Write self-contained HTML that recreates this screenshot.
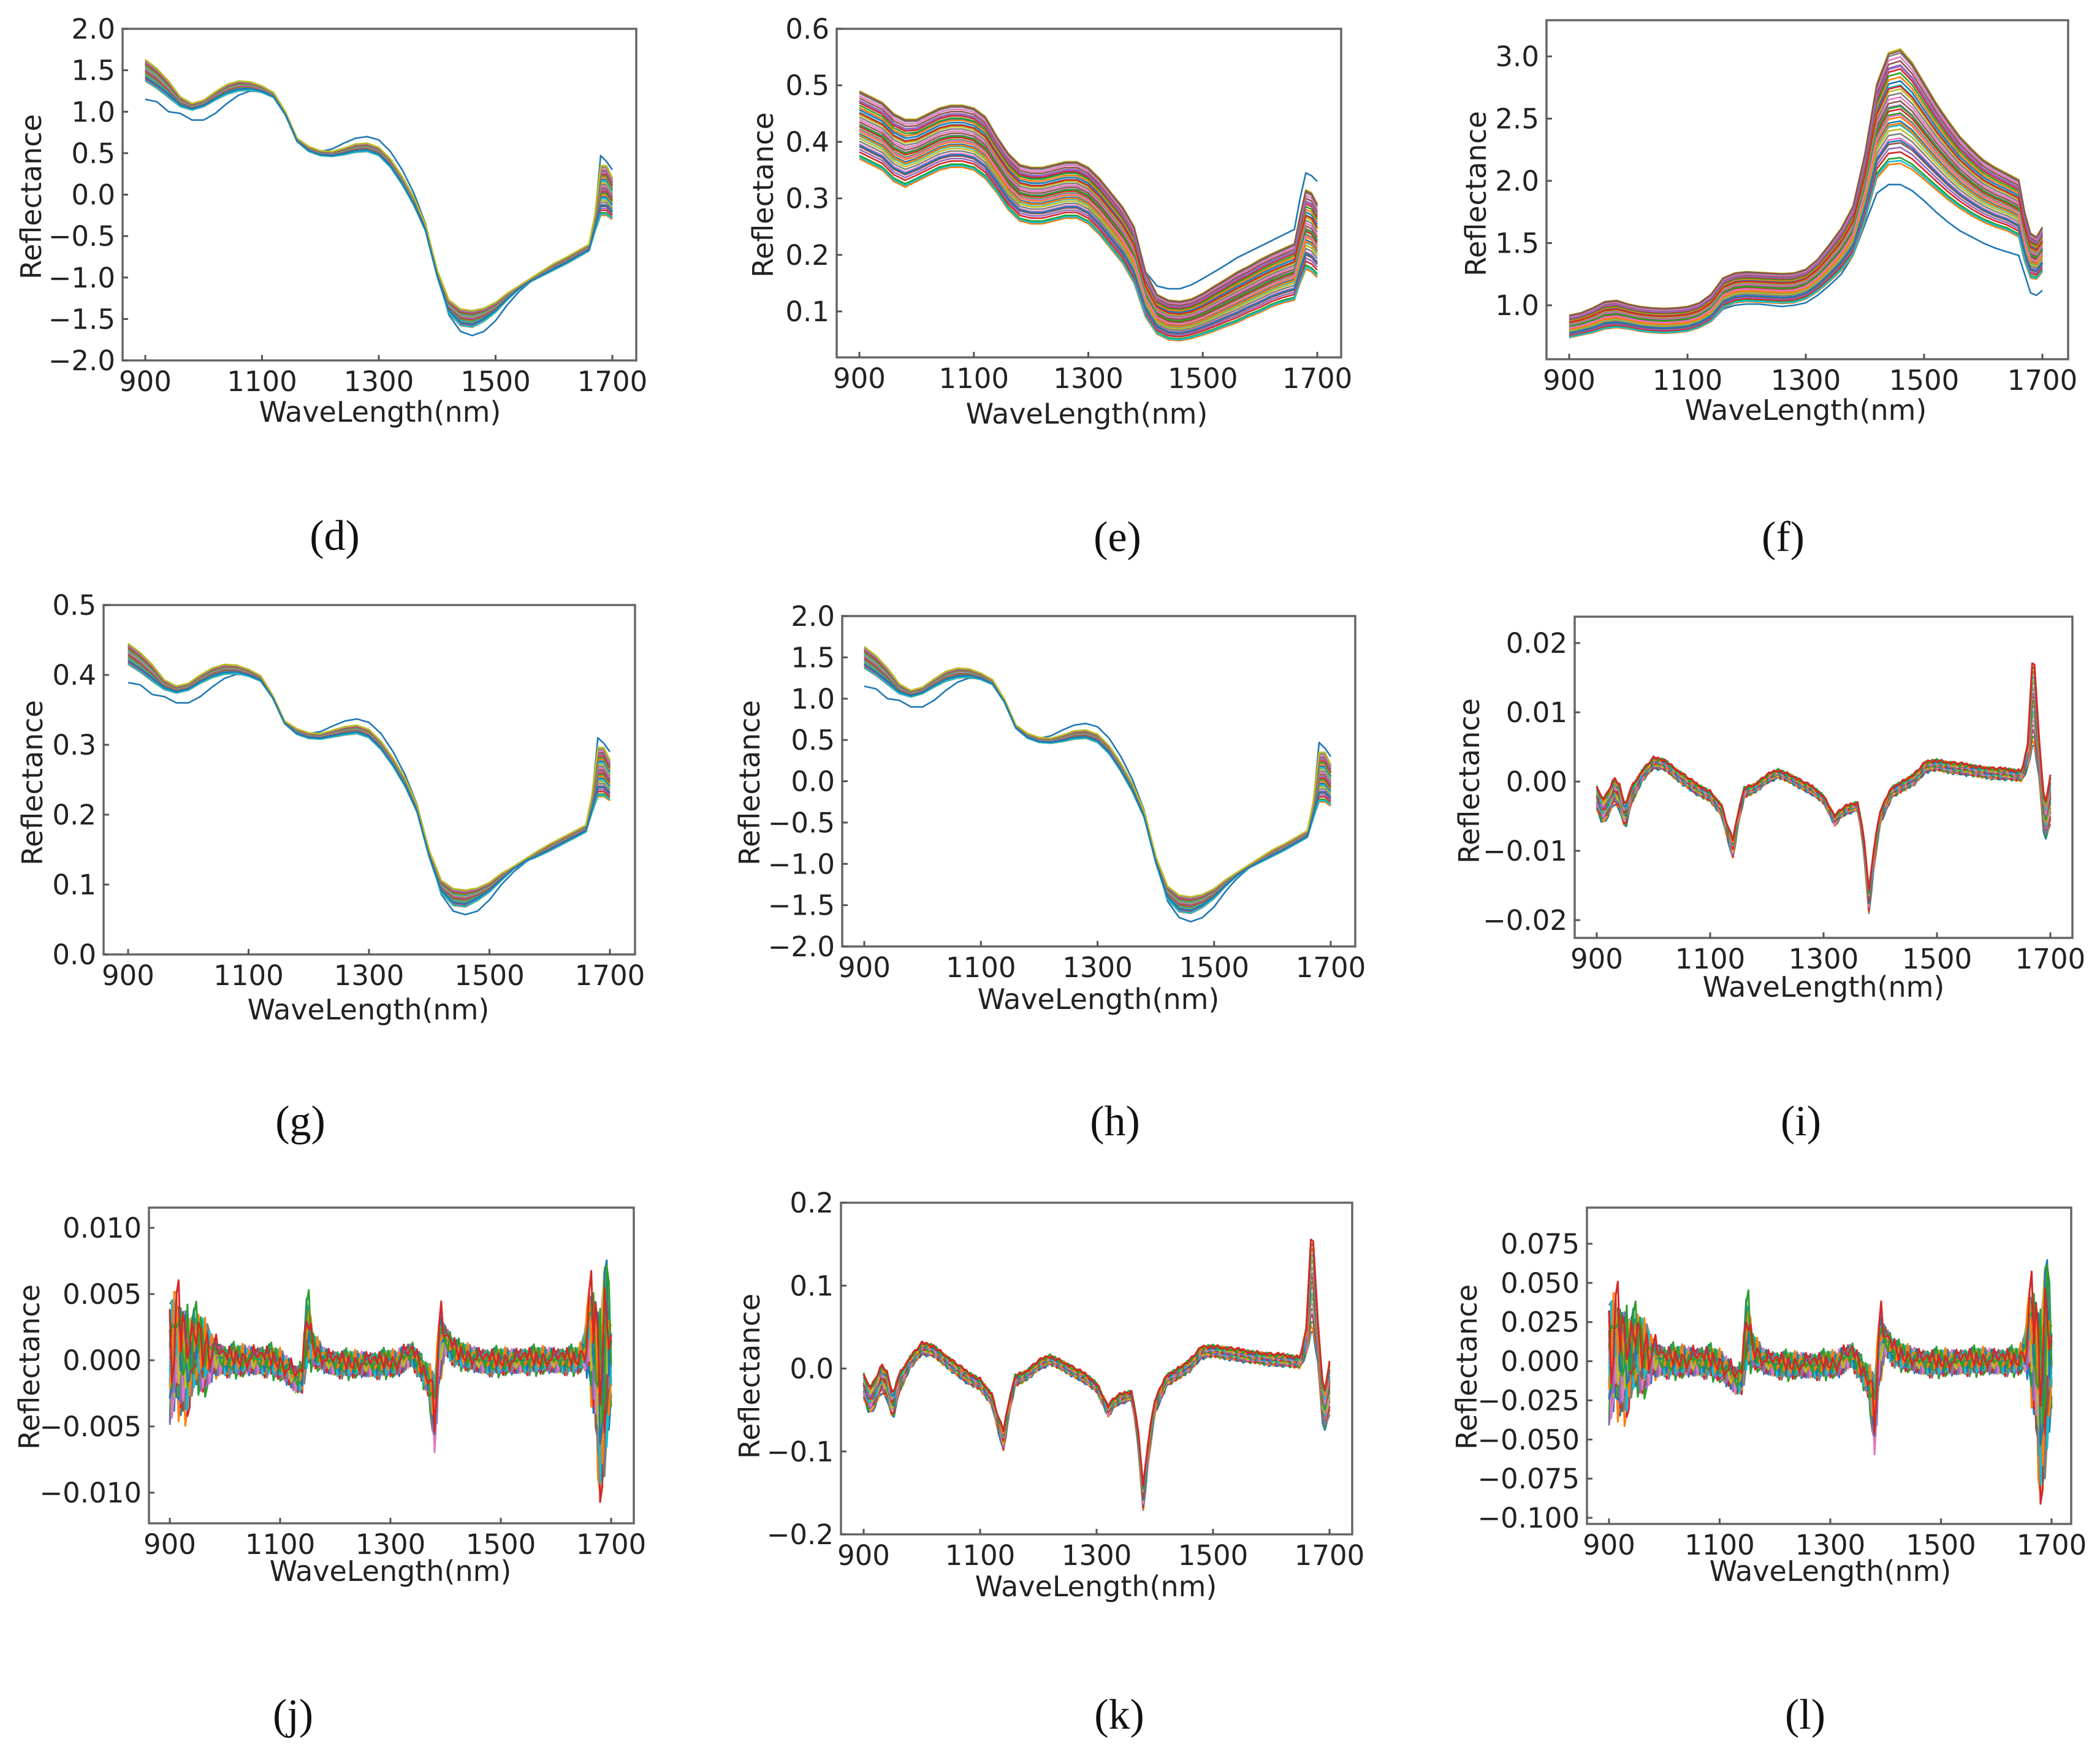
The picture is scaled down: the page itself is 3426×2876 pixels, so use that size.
<!DOCTYPE html>
<html><head><meta charset="utf-8"><style>
html,body{margin:0;padding:0;background:#fff;}
svg{display:block;}
.tk{font-family:"DejaVu Sans","Liberation Sans",sans-serif;font-size:45px;fill:#222;}
.lb{font-family:"DejaVu Sans","Liberation Sans",sans-serif;font-size:46px;fill:#222;}
.pl{font-family:"Liberation Serif",serif;font-size:70px;fill:#111;}
</style></head><body>
<svg id="fig" xmlns="http://www.w3.org/2000/svg" width="3426" height="2876" viewBox="0 0 3426 2876">
<rect x="0" y="0" width="3426" height="2876" fill="#fff"/>
</svg>
<script>
// ---- shared data ----
const W1 = [900,920,940,960,980,1000,1020,1040,1060,1080,1100,1120,1140,1160,1180,1200,1220,1240,1260,1280,1300,1320,1340,1360,1380,1400,1420,1440,1460,1480,1500,1520,1540,1560,1580,1600,1620,1640,1660,1670,1680,1690,1700];
const Wi = [900,910,920,930,940,950,960,980,1000,1020,1040,1060,1080,1100,1120,1130,1140,1150,1160,1180,1200,1220,1240,1260,1280,1300,1310,1320,1330,1340,1360,1370,1380,1390,1400,1420,1440,1460,1480,1500,1520,1540,1560,1580,1600,1620,1640,1650,1660,1670,1680,1690,1700];
const sampleOffsets = [-1,-0.9,-0.8,-0.72,-0.64,-0.56,-0.48,-0.4,-0.33,-0.26,-0.19,-0.12,-0.05,0.02,0.09,0.16,0.23,0.3,0.37,0.44,0.51,0.58,0.65,0.72,0.79,0.86,0.93,1.0,-0.95,-0.6,-0.3,0.0,0.35,0.7,0.97,-0.15];
const jitter = [0.8,-0.6,0.3,-0.9,0.5,0.1,-0.4,0.9,-0.2,0.6,-0.7,0.2,-0.1,0.7,-0.5,0.4,-0.8];
const colors = ['#1f77b4','#ff7f0e','#2ca02c','#d62728','#9467bd','#8c564b','#e377c2','#7f7f7f','#bcbd22','#17becf'];

// ---- panel d ----
const dBase = [1.50,1.40,1.27,1.12,1.06,1.10,1.19,1.27,1.31,1.31,1.27,1.20,0.98,0.66,0.55,0.50,0.49,0.52,0.56,0.57,0.52,0.38,0.17,-0.08,-0.40,-0.95,-1.35,-1.48,-1.50,-1.45,-1.36,-1.23,-1.12,-1.03,-0.95,-0.87,-0.80,-0.72,-0.64,-0.35,0.05,0.05,-0.05];
const dSpread = [0.13,0.12,0.10,0.06,0.04,0.04,0.05,0.06,0.06,0.05,0.04,0.03,0.02,0.02,0.03,0.03,0.03,0.04,0.05,0.05,0.05,0.05,0.05,0.05,0.04,0.04,0.08,0.10,0.10,0.08,0.06,0.04,0.02,0.02,0.03,0.04,0.04,0.04,0.04,0.10,0.30,0.30,0.25];
const dOutlier = [1.15,1.12,1.00,0.98,0.90,0.90,0.98,1.10,1.20,1.25,1.24,1.18,0.98,0.66,0.55,0.52,0.55,0.62,0.68,0.70,0.66,0.52,0.30,0.02,-0.35,-0.95,-1.45,-1.65,-1.70,-1.65,-1.52,-1.33,-1.17,-1.05,-0.96,-0.88,-0.80,-0.72,-0.64,-0.30,0.47,0.40,0.30];
const dTicks = [2.0,1.5,1.0,0.5,0.0,-0.5,-1.0,-1.5,-2.0];
const dTickLabels = ['2.0','1.5','1.0','0.5','0.0','−0.5','−1.0','−1.5','−2.0'];
// ---- panel e ----
const eBase = [0.43,0.42,0.41,0.39,0.38,0.385,0.395,0.405,0.41,0.41,0.405,0.39,0.36,0.33,0.31,0.305,0.305,0.31,0.315,0.315,0.305,0.285,0.26,0.235,0.20,0.13,0.095,0.085,0.083,0.087,0.095,0.105,0.115,0.125,0.135,0.145,0.155,0.163,0.17,0.21,0.245,0.24,0.225];
const eSpread = [0.06,0.06,0.06,0.06,0.06,0.055,0.055,0.055,0.055,0.055,0.055,0.055,0.05,0.05,0.05,0.05,0.05,0.05,0.05,0.05,0.05,0.05,0.05,0.05,0.05,0.04,0.035,0.035,0.035,0.035,0.037,0.04,0.042,0.045,0.045,0.047,0.047,0.048,0.05,0.06,0.07,0.07,0.065];
const eOutlier = [0.46,0.45,0.44,0.42,0.41,0.415,0.425,0.435,0.44,0.44,0.435,0.42,0.39,0.36,0.34,0.335,0.335,0.34,0.345,0.345,0.335,0.315,0.29,0.265,0.23,0.17,0.145,0.14,0.14,0.147,0.158,0.17,0.182,0.195,0.205,0.215,0.225,0.235,0.245,0.30,0.345,0.34,0.33];
const eTicks = [0.6,0.5,0.4,0.3,0.2,0.1];
const eTickLabels = ['0.6','0.5','0.4','0.3','0.2','0.1'];
// ---- panel f ----
const fBase = [0.83,0.85,0.88,0.92,0.93,0.91,0.89,0.88,0.875,0.88,0.89,0.92,0.98,1.10,1.14,1.15,1.145,1.14,1.135,1.14,1.17,1.24,1.34,1.45,1.60,1.95,2.40,2.58,2.60,2.52,2.40,2.28,2.17,2.07,1.99,1.92,1.87,1.83,1.78,1.55,1.40,1.38,1.45];
const fSpread = [0.09,0.09,0.1,0.11,0.11,0.1,0.1,0.1,0.1,0.1,0.1,0.1,0.11,0.12,0.12,0.12,0.12,0.12,0.12,0.12,0.12,0.13,0.15,0.17,0.2,0.27,0.38,0.45,0.46,0.43,0.39,0.35,0.32,0.29,0.27,0.25,0.24,0.23,0.23,0.2,0.18,0.17,0.18];
const fOutlier = [0.76,0.77,0.79,0.82,0.83,0.82,0.80,0.79,0.78,0.79,0.80,0.82,0.87,0.97,1.00,1.01,1.01,1.00,0.99,1.00,1.02,1.08,1.16,1.25,1.40,1.65,1.90,1.97,1.97,1.92,1.84,1.75,1.67,1.60,1.55,1.50,1.46,1.43,1.40,1.25,1.10,1.08,1.12];
const fTicks = [3.0,2.5,2.0,1.5,1.0];
const fTickLabels = ['3.0','2.5','2.0','1.5','1.0'];
// ---- panel g ----
const gBase = [0.430,0.418,0.403,0.386,0.379,0.383,0.394,0.403,0.408,0.408,0.403,0.395,0.369,0.332,0.319,0.313,0.312,0.316,0.320,0.322,0.316,0.299,0.275,0.246,0.208,0.144,0.097,0.082,0.080,0.086,0.096,0.111,0.124,0.135,0.144,0.153,0.162,0.171,0.180,0.214,0.261,0.261,0.249];
const gSpread = [0.015,0.014,0.012,0.007,0.005,0.005,0.006,0.007,0.007,0.006,0.005,0.004,0.002,0.002,0.004,0.004,0.004,0.005,0.006,0.006,0.006,0.006,0.006,0.006,0.005,0.005,0.009,0.012,0.012,0.009,0.007,0.005,0.002,0.002,0.004,0.005,0.005,0.005,0.005,0.012,0.035,0.035,0.029];
const gOutlier = [0.389,0.386,0.372,0.369,0.360,0.360,0.369,0.383,0.395,0.401,0.400,0.393,0.369,0.332,0.319,0.316,0.319,0.327,0.334,0.337,0.332,0.316,0.290,0.257,0.214,0.144,0.086,0.062,0.057,0.062,0.078,0.100,0.118,0.132,0.143,0.152,0.162,0.171,0.180,0.220,0.310,0.302,0.290];
const gTicks = [0.5,0.4,0.3,0.2,0.1,0.0];
const gTickLabels = ['0.5','0.4','0.3','0.2','0.1','0.0'];
// ---- panel h ----
const hBase = [1.50,1.40,1.27,1.12,1.06,1.10,1.19,1.27,1.31,1.31,1.27,1.20,0.98,0.66,0.55,0.50,0.49,0.52,0.56,0.57,0.52,0.38,0.17,-0.08,-0.40,-0.95,-1.35,-1.48,-1.50,-1.45,-1.36,-1.23,-1.12,-1.03,-0.95,-0.87,-0.80,-0.72,-0.64,-0.35,0.05,0.05,-0.05];
const hSpread = [0.13,0.12,0.10,0.06,0.04,0.04,0.05,0.06,0.06,0.05,0.04,0.03,0.02,0.02,0.03,0.03,0.03,0.04,0.05,0.05,0.05,0.05,0.05,0.05,0.04,0.04,0.08,0.10,0.10,0.08,0.06,0.04,0.02,0.02,0.03,0.04,0.04,0.04,0.04,0.10,0.30,0.30,0.25];
const hOutlier = [1.15,1.12,1.00,0.98,0.90,0.90,0.98,1.10,1.20,1.25,1.24,1.18,0.98,0.66,0.55,0.52,0.55,0.62,0.68,0.70,0.66,0.52,0.30,0.02,-0.35,-0.95,-1.45,-1.65,-1.70,-1.65,-1.52,-1.33,-1.17,-1.05,-0.96,-0.88,-0.80,-0.72,-0.64,-0.30,0.47,0.40,0.30];
const hTicks = [2.0,1.5,1.0,0.5,0.0,-0.5,-1.0,-1.5,-2.0];
const hTickLabels = ['2.0','1.5','1.0','0.5','0.0','−0.5','−1.0','−1.5','−2.0'];
// ---- panel i ----
const iBase = [-0.002,-0.004,-0.003,-0.001,-0.002,-0.005,-0.002,0.001,0.0028,0.0025,0.0012,0.0,-0.0012,-0.002,-0.004,-0.007,-0.0095,-0.005,-0.0015,-0.0008,0.0005,0.0012,0.0006,-0.0003,-0.0012,-0.0025,-0.004,-0.0055,-0.0045,-0.004,-0.0035,-0.008,-0.017,-0.01,-0.005,-0.0015,-0.0005,0.0005,0.0022,0.0025,0.0022,0.002,0.0017,0.0015,0.0013,0.0012,0.001,0.001,0.004,0.014,0.004,-0.006,-0.002];
const iSpread = [0.002,0.002,0.002,0.002,0.002,0.002,0.0015,0.0008,0.0008,0.0008,0.0008,0.0008,0.0008,0.0008,0.0008,0.001,0.0015,0.001,0.0008,0.0006,0.0006,0.0006,0.0006,0.0006,0.0006,0.0006,0.0006,0.0008,0.0006,0.0006,0.0006,0.001,0.002,0.0015,0.001,0.0008,0.0008,0.0008,0.0008,0.0008,0.0008,0.0008,0.0008,0.0008,0.0008,0.0008,0.0008,0.0008,0.002,0.008,0.003,0.003,0.004];
const iTicks = [0.02,0.01,0.0,-0.01,-0.02];
const iTickLabels = ['0.02','0.01','0.00','−0.01','−0.02'];
// ---- panel j ----
const jBase = [0,0.001,0.0005,0,0.0005,0.001,0.0005,0.0003,0,0,0,0,0,-0.0003,-0.001,-0.0015,-0.001,0.0025,0.0008,0,-0.0002,-0.0003,-0.0003,-0.0003,-0.0003,-0.0002,-0.0003,0,0.0003,0.0005,-0.001,-0.0015,-0.004,0.0015,0.0015,0.0005,0.0002,0,-0.0001,-0.0001,-0.0001,0,0,0,0,0,0,0.0005,0.002,0.001,-0.003,0,0];
const jSpread = [0.005,0.005,0.005,0.005,0.003,0.003,0.003,0.0015,0.0008,0.0008,0.0008,0.0008,0.0008,0.0008,0.0008,0.0008,0.001,0.003,0.001,0.0006,0.0006,0.0006,0.0006,0.0006,0.0006,0.0006,0.0006,0.0008,0.0006,0.0006,0.0006,0.001,0.003,0.003,0.001,0.0006,0.0006,0.0006,0.0006,0.0006,0.0006,0.0006,0.0006,0.0006,0.0006,0.0006,0.0006,0.0008,0.004,0.006,0.008,0.009,0.003];
const jTicks = [0.010,0.005,0.0,-0.005,-0.010];
const jTickLabels = ['0.010','0.005','0.000','−0.005','−0.010'];
// ---- panel k ----
const kBase = [-0.018,-0.036,-0.027,-0.009,-0.018,-0.045,-0.018,0.009,0.025,0.022,0.011,0.0,-0.011,-0.018,-0.036,-0.063,-0.085,-0.045,-0.014,-0.007,0.005,0.011,0.005,-0.003,-0.011,-0.022,-0.036,-0.05,-0.04,-0.036,-0.032,-0.072,-0.153,-0.09,-0.045,-0.014,-0.005,0.005,0.02,0.022,0.02,0.018,0.015,0.014,0.012,0.011,0.009,0.009,0.036,0.126,0.036,-0.054,-0.018];
const kSpread = [0.018,0.018,0.018,0.018,0.018,0.018,0.0135,0.007,0.007,0.007,0.007,0.007,0.007,0.007,0.007,0.009,0.0135,0.009,0.007,0.0055,0.0055,0.0055,0.0055,0.0055,0.0055,0.0055,0.0055,0.007,0.0055,0.0055,0.0055,0.009,0.018,0.0135,0.009,0.007,0.007,0.007,0.007,0.007,0.007,0.007,0.007,0.007,0.007,0.007,0.007,0.007,0.018,0.075,0.027,0.027,0.036];
const kTicks = [0.2,0.1,0.0,-0.1,-0.2];
const kTickLabels = ['0.2','0.1','0.0','−0.1','−0.2'];
// ---- panel l ----
const lBase = [0,0.0085,0.0043,0,0.0043,0.0085,0.0043,0.0026,0,0,0,0,0,-0.0026,-0.0085,-0.0128,-0.0085,0.021,0.0068,0,-0.0017,-0.0026,-0.0026,-0.0026,-0.0026,-0.0017,-0.0026,0,0.0026,0.0043,-0.0085,-0.0128,-0.034,0.0128,0.0128,0.0043,0.0017,0,-0.0009,-0.0009,-0.0009,0,0,0,0,0,0,0.0043,0.017,0.0085,-0.0255,0,0];
const lSpread = [0.042,0.042,0.042,0.042,0.026,0.026,0.026,0.013,0.007,0.007,0.007,0.007,0.007,0.007,0.007,0.007,0.0085,0.026,0.0085,0.005,0.005,0.005,0.005,0.005,0.005,0.005,0.005,0.007,0.005,0.005,0.005,0.0085,0.026,0.026,0.0085,0.005,0.005,0.005,0.005,0.005,0.005,0.005,0.005,0.005,0.005,0.005,0.005,0.007,0.034,0.051,0.068,0.077,0.026];
const lTicks = [0.075,0.05,0.025,0.0,-0.025,-0.05,-0.075,-0.1];
const lTickLabels = ['0.075','0.050','0.025','0.000','−0.025','−0.050','−0.075','−0.100'];
const xTicks = [900,1100,1300,1500,1700];
const xTickLabels = ['900','1100','1300','1500','1700'];

const panels = [
 {id:'d',w:W1,base:dBase,spread:dSpread,out:dOutlier,ticks:dTicks,tl:dTickLabels,box:[200,47,1038,588],xp:[237,999],yp:[2.0,47,-2.0,588],yl:[51,321],xl:[620,672],pl:[546,873],noise:0,n:30},
 {id:'e',w:W1,base:eBase,spread:eSpread,out:eOutlier,ticks:eTicks,tl:eTickLabels,box:[1365,47,2188,583],xp:[1402,2149],yp:[0.6,47,0.1,508],yl:[1245,318],xl:[1773,675],pl:[1823,875],noise:0,n:36},
 {id:'f',w:W1,base:fBase,spread:fSpread,out:fOutlier,ticks:fTicks,tl:fTickLabels,box:[2523,33,3374,586],xp:[2560,3332],yp:[3.0,92,1.0,498],yl:[2408,316],xl:[2946,669],pl:[2909,875],noise:0,n:36},
 {id:'g',w:W1,base:gBase,spread:gSpread,out:gOutlier,ticks:gTicks,tl:gTickLabels,box:[169,987,1036,1557],xp:[209,995],yp:[0.5,987,0.0,1557],yl:[53,1277],xl:[601,1647],pl:[490,1828],noise:0,n:30},
 {id:'h',w:W1,base:hBase,spread:hSpread,out:hOutlier,ticks:hTicks,tl:hTickLabels,box:[1374,1005,2211,1544],xp:[1410,2171],yp:[2.0,1005,-2.0,1544],yl:[1223,1277],xl:[1792,1630],pl:[1819,1828],noise:0,n:30},
 {id:'i',w:Wi,base:iBase,spread:iSpread,out:null,ticks:iTicks,tl:iTickLabels,box:[2569,1006,3381,1530],xp:[2605,3345],yp:[0.02,1049,-0.02,1501],yl:[2397,1274],xl:[2975,1610],pl:[2938,1828],noise:0.0003,n:24},
 {id:'j',w:Wi,base:jBase,spread:jSpread,out:null,ticks:jTicks,tl:jTickLabels,box:[243,1970,1034,2485],xp:[277,997],yp:[0.010,2003,-0.010,2435],yl:[48,2230],xl:[637,2563],pl:[478,2796],noise:0.0007,n:24,rough:true},
 {id:'k',w:Wi,base:kBase,spread:kSpread,out:null,ticks:kTicks,tl:kTickLabels,box:[1372,1962,2206,2503],xp:[1409,2169],yp:[0.2,1962,-0.2,2503],yl:[1223,2245],xl:[1788,2588],pl:[1826,2796],noise:0.003,n:24},
 {id:'l',w:Wi,base:lBase,spread:lSpread,out:null,ticks:lTicks,tl:lTickLabels,box:[2589,1970,3379,2486],xp:[2625,3347],yp:[0.075,2029,-0.1,2476],yl:[2393,2230],xl:[2986,2563],pl:[2945,2796],noise:0.006,n:24,rough:true}
];

const NS='http://www.w3.org/2000/svg';
const fig=document.getElementById('fig');
function mk(tag,attrs,parent){const e=document.createElementNS(NS,tag);for(const k in attrs)e.setAttribute(k,attrs[k]);(parent||fig).appendChild(e);return e;}
function interp(w,v,x){for(let i=0;i<w.length-1;i++){if(x<=w[i+1]){const t=(x-w[i])/(w[i+1]-w[i]);return v[i]+t*(v[i+1]-v[i]);}}return v[v.length-1];}

panels.forEach(p=>{
  const g=mk('g',{});
  
  
  const [bl,bt,br,bb]=p.box;
  const xs=x=>p.xp[0]+(x-900)/(800)*(p.xp[1]-p.xp[0]);
  const ys=y=>p.yp[1]+(y-p.yp[0])/(p.yp[2]-p.yp[0])*(p.yp[3]-p.yp[1]);
  const clipId='clip'+p.id;
  const cp=mk('clipPath',{id:clipId},g);mk('rect',{x:bl,y:bt,width:br-bl,height:bb-bt},cp);
  const lines=mk('g',{'clip-path':'url(#'+clipId+')'},g);
  
  
  const step=p.noise?4:5;
  const series=[];
  if(p.out) series.push({vals:x=>interp(p.w,p.out,x)});
  for(let k=0;k<p.n;k++){
    const off=sampleOffsets[k%sampleOffsets.length];
    series.push({k:k,off:off});
  }
  series.forEach((s,si)=>{
    let d='';let idx=0;
    for(let x=900;x<=1700;x+=step,idx++){
      let v;
      if(s.vals) v=s.vals(x);
      else{
        const b=interp(p.w,p.base,x),sp=interp(p.w,p.spread,x);
        if(p.noise){
          const jv=jitter[(idx*7+s.k*5)%jitter.length];
          v=b+sp*(p.rough?0.45*s.off+0.75*jv:s.off)+p.noise*jitter[(idx*5+s.k*3)%jitter.length];
        } else v=b+sp*s.off;
      }
      d+=(idx?'L':'M')+xs(x).toFixed(1)+' '+ys(v).toFixed(1);
    }
    const path=mk('path',{d:d,fill:'none',stroke:colors[si%colors.length],'stroke-width':p.noise?3:2.6,'stroke-linejoin':'round'},lines);
    
    
  });
  const frame=mk('rect',{x:bl,y:bt,width:br-bl,height:bb-bt,fill:'none',stroke:'#666','stroke-width':3.5},g);
  
  
  xTicks.forEach((t,i)=>{
    const x=xs(t);
    mk('line',{x1:x,y1:bb,x2:x,y2:bb-9,stroke:'#555','stroke-width':3},g);
    const tx=mk('text',{x:x,y:bb+50,'text-anchor':'middle',class:'tk'},g);
    tx.textContent=xTickLabels[i];
    
    
  });
  p.ticks.forEach((t,i)=>{
    const y=ys(t);
    mk('line',{x1:bl,y1:y,x2:bl+9,y2:y,stroke:'#555','stroke-width':3},g);
    const tx=mk('text',{x:bl-12,y:y+16,'text-anchor':'end',class:'tk'},g);
    tx.textContent=p.tl[i];
    
    
  });
  const xl=mk('text',{x:p.xl[0],y:p.xl[1]+16,'text-anchor':'middle',class:'lb'},g);
  xl.textContent='WaveLength(nm)';
  
  
  const yl=mk('text',{x:0,y:0,'text-anchor':'middle',class:'lb',transform:'translate('+(p.yl[0]+16)+','+p.yl[1]+') rotate(-90)'},g);
  yl.textContent='Reflectance';
  
  
  const pl=mk('text',{x:p.pl[0],y:p.pl[1]+24,'text-anchor':'middle',class:'pl'},g);
  pl.textContent='('+p.id+')';
  
  
});
</script>
</body></html>
